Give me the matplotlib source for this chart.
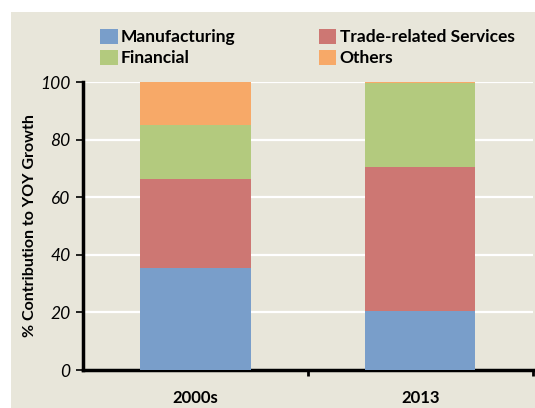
import matplotlib.pyplot as plt
from matplotlib.patches import Rectangle

periods = ['2000s', '2013']
manufacturing = [35.5, 20.5]
trade = [31.0, 50.0]
financial = [18.5, 29.0]
others = [15.0, 0.5]

plt.rcParams['font.family'] = ['Lato', 'DejaVu Sans']

fig = plt.figure(figsize=(5.35, 4.08), dpi=100, facecolor='white')
fig.patches.append(Rectangle((11 / 535, 0), 1, 1 - 12 / 408, transform=fig.transFigure,
                             facecolor='#E8E6DA', edgecolor='none', zorder=-10))
ax = fig.add_axes([0.155, 0.093, 0.841, 0.706])
ax.set_facecolor('#E8E6DA')

x = range(len(periods))
w = 0.49
bottom2 = [a + b for a, b in zip(manufacturing, trade)]
bottom3 = [a + b for a, b in zip(bottom2, financial)]
ax.bar(x, manufacturing, w, color='#799ECA', label='Manufacturing', zorder=3)
ax.bar(x, trade, w, bottom=manufacturing, color='#CD7773', label='Trade-related Services', zorder=3)
ax.bar(x, financial, w, bottom=bottom2, color='#B3CA7E', label='Financial', zorder=3)
ax.bar(x, others, w, bottom=bottom3, color='#F7A968', label='Others', zorder=3)

ax.set_xlim(-0.5, 1.5)
ax.set_ylim(0, 100)
ax.set_yticks(range(0, 101, 20))
ax.set_yticklabels([str(v) for v in range(0, 101, 20)], fontstyle='italic', fontsize=12.5)
ax.yaxis.grid(True, color='white', linewidth=1.6, zorder=1)
ax.set_axisbelow(True)
ax.set_xticks(list(x))
ax.set_xticklabels(periods, fontweight='bold', fontsize=12)
ax.tick_params(axis='x', length=0, pad=14)
ax.set_xticks([0.5, 1.5], minor=True)
ax.tick_params(axis='x', which='minor', length=4, width=2, direction='out')
ax.tick_params(axis='y', length=5, width=1.2, direction='out', pad=4)

for s in ['top', 'right']:
    ax.spines[s].set_visible(False)
for s in ['left', 'bottom']:
    ax.spines[s].set_linewidth(2.5)

ax.set_ylabel('% Contribution to YOY Growth', fontweight='bold', fontsize=11.5, labelpad=2)

# legend filled row-wise like the original
handles, labels = ax.get_legend_handles_labels()
order = [0, 2, 1, 3]
fig.legend([handles[i] for i in order], [labels[i] for i in order],
           loc='upper left', bbox_to_anchor=(0.158, 0.968), ncol=2, frameon=False,
           prop={'weight': 'bold', 'size': 12.5}, handlelength=1.0, handleheight=1.0,
           handletextpad=0.2, columnspacing=4.8, labelspacing=0.25)

fig.savefig('out.png', dpi=100)
